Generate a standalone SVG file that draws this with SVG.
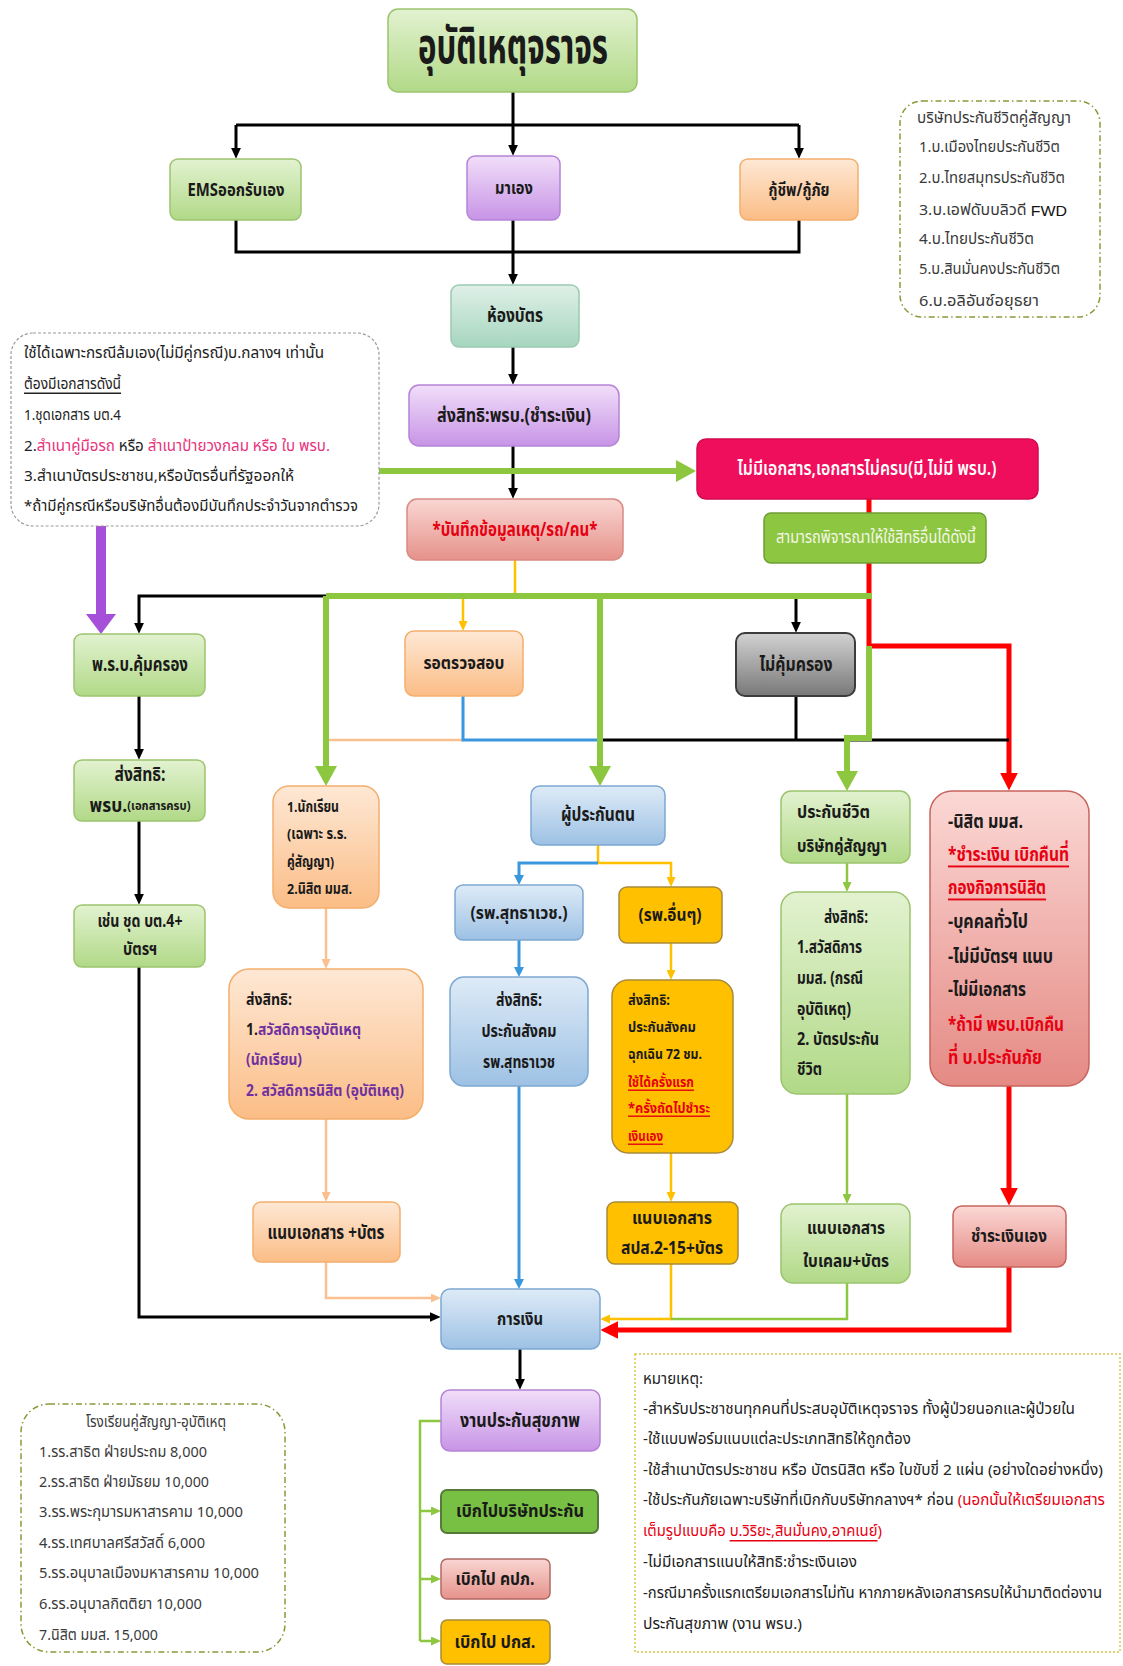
<svg xmlns="http://www.w3.org/2000/svg" width="1123" height="1666" viewBox="0 0 1123 1666">
<defs>
<style>
text{font-family:'Noto Sans Thai','Noto Sans Thai UI','Loma','Garuda','Tlwg Typo','Noto Sans','DejaVu Sans',sans-serif;dominant-baseline:central}
.c{font-weight:700;fill:#1a1a1a;text-anchor:middle}
.l{font-weight:700;fill:#1a1a1a}
.n{font-weight:400;fill:#222}
.g{font-weight:400;fill:#3a3a3a}
.red{fill:#e60012}
.pk{fill:#e8327c}
.pu{fill:#7030a0}
.u{text-decoration:underline}
.k{fill:none;stroke:#000;stroke-width:3}
.gt{fill:none;stroke:#8dc63f;stroke-width:6}
.gn{fill:none;stroke:#8dc63f;stroke-width:2.5}
.rd{fill:none;stroke:#ff0000;stroke-width:5}
.yl{fill:none;stroke:#ffc000;stroke-width:2.5}
.bl{fill:none;stroke:#3a96dd;stroke-width:3}
.or{fill:none;stroke:#fac08f;stroke-width:2.5}
.pp{fill:none;stroke:#a64fd8;stroke-width:10}
</style>
<linearGradient id="gG" x1="0" y1="0" x2="0" y2="1"><stop offset="0" stop-color="#e2f2d0"/><stop offset="1" stop-color="#b1d987"/></linearGradient>
<linearGradient id="gP" x1="0" y1="0" x2="0" y2="1"><stop offset="0" stop-color="#f1def9"/><stop offset="1" stop-color="#c794e6"/></linearGradient>
<linearGradient id="gO" x1="0" y1="0" x2="0" y2="1"><stop offset="0" stop-color="#fee8d5"/><stop offset="1" stop-color="#fbbd86"/></linearGradient>
<linearGradient id="gT" x1="0" y1="0" x2="0" y2="1"><stop offset="0" stop-color="#dff0e8"/><stop offset="1" stop-color="#a6d6bf"/></linearGradient>
<linearGradient id="gR" x1="0" y1="0" x2="0" y2="1"><stop offset="0" stop-color="#f9d6d2"/><stop offset="1" stop-color="#e6928b"/></linearGradient>
<linearGradient id="gB" x1="0" y1="0" x2="0" y2="1"><stop offset="0" stop-color="#deebf7"/><stop offset="1" stop-color="#9dc1e4"/></linearGradient>
<linearGradient id="gK" x1="0" y1="0" x2="0" y2="1"><stop offset="0" stop-color="#d2d2d2"/><stop offset="1" stop-color="#787878"/></linearGradient>
<linearGradient id="gRB" x1="0" y1="0" x2="0" y2="1"><stop offset="0" stop-color="#fbd8d5"/><stop offset="1" stop-color="#e58a84"/></linearGradient>
<marker id="ak" viewBox="0 0 10 10" refX="3" refY="5" markerWidth="11" markerHeight="10" markerUnits="userSpaceOnUse" orient="auto" preserveAspectRatio="none"><path d="M0,0L10,5L0,10z" fill="#000"/></marker>
<marker id="agt" viewBox="0 0 10 10" refX="3" refY="5" markerWidth="20" markerHeight="22" markerUnits="userSpaceOnUse" orient="auto" preserveAspectRatio="none"><path d="M0,0L10,5L0,10z" fill="#8dc63f"/></marker>
<marker id="agn" viewBox="0 0 10 10" refX="3" refY="5" markerWidth="10" markerHeight="9" markerUnits="userSpaceOnUse" orient="auto" preserveAspectRatio="none"><path d="M0,0L10,5L0,10z" fill="#8dc63f"/></marker>
<marker id="ard" viewBox="0 0 10 10" refX="3" refY="5" markerWidth="18" markerHeight="18" markerUnits="userSpaceOnUse" orient="auto" preserveAspectRatio="none"><path d="M0,0L10,5L0,10z" fill="#ff0000"/></marker>
<marker id="ayl" viewBox="0 0 10 10" refX="3" refY="5" markerWidth="10" markerHeight="9" markerUnits="userSpaceOnUse" orient="auto" preserveAspectRatio="none"><path d="M0,0L10,5L0,10z" fill="#ffc000"/></marker>
<marker id="abl" viewBox="0 0 10 10" refX="3" refY="5" markerWidth="10" markerHeight="10" markerUnits="userSpaceOnUse" orient="auto" preserveAspectRatio="none"><path d="M0,0L10,5L0,10z" fill="#3a96dd"/></marker>
<marker id="aor" viewBox="0 0 10 10" refX="3" refY="5" markerWidth="10" markerHeight="9" markerUnits="userSpaceOnUse" orient="auto" preserveAspectRatio="none"><path d="M0,0L10,5L0,10z" fill="#fac08f"/></marker>
<marker id="app" viewBox="0 0 10 10" refX="3" refY="5" markerWidth="20" markerHeight="30" markerUnits="userSpaceOnUse" orient="auto" preserveAspectRatio="none"><path d="M0,0L10,5L0,10z" fill="#a64fd8"/></marker>
</defs>
<rect width="1123" height="1666" fill="#fff"/>

<g id="connectors">
<path class="k" d="M236,125H799"/>
<path class="k" d="M513,92V148" marker-end="url(#ak)"/>
<path class="k" d="M236,125V151" marker-end="url(#ak)"/>
<path class="k" d="M799,125V151" marker-end="url(#ak)"/>
<path class="k" d="M236,220V252H799V220"/>
<path class="k" d="M513,220V277" marker-end="url(#ak)"/>
<path class="k" d="M513,347V377" marker-end="url(#ak)"/>
<path class="k" d="M513,446V491" marker-end="url(#ak)"/>
<path class="gt" d="M379,471H682" marker-end="url(#agt)"/>
<path class="rd" d="M869,499V646H1009V778" marker-end="url(#ard)"/>
<path class="yl" d="M515,560V596"/>
<path class="gt" d="M326,596H872"/>
<path class="k" d="M326,596H139V626" marker-end="url(#ak)"/>
<path class="yl" d="M463,599V624" marker-end="url(#ayl)"/>
<path class="k" d="M796,599V625" marker-end="url(#ak)"/>
<path class="gt" d="M326,596V772" marker-end="url(#agt)"/>
<path class="gt" d="M600,596V772" marker-end="url(#agt)"/>
<path class="or" d="M329,740H463"/>
<path class="bl" d="M463,696V740H597"/>
<path class="k" d="M603,740H1009"/>
<path class="k" d="M796,696V740"/>
<path class="gt" d="M869,646V738H847V777" marker-end="url(#agt)"/>
<path class="pp" d="M101,526V620" marker-end="url(#app)"/>
<path class="k" d="M139,696V752" marker-end="url(#ak)"/>
<path class="k" d="M139,821V897" marker-end="url(#ak)"/>
<path class="k" d="M139,967V1317H433" marker-end="url(#ak)"/>
<path class="or" d="M326,908V962" marker-end="url(#aor)"/>
<path class="or" d="M326,1119V1195" marker-end="url(#aor)"/>
<path class="or" d="M326,1262V1298H434" marker-end="url(#aor)"/>
<path class="yl" d="M598,845V863H671V880" marker-end="url(#ayl)"/>
<path class="bl" d="M598,863H519V878" marker-end="url(#abl)"/>
<path class="bl" d="M519,940V970" marker-end="url(#abl)"/>
<path class="bl" d="M519,1086V1282" marker-end="url(#abl)"/>
<path class="yl" d="M671,943V973" marker-end="url(#ayl)"/>
<path class="yl" d="M671,1153V1195" marker-end="url(#ayl)"/>
<path class="yl" d="M671,1264V1319H607" marker-end="url(#ayl)"/>
<path class="gn" d="M847,863V885" marker-end="url(#agn)"/>
<path class="gn" d="M847,1094V1197" marker-end="url(#agn)"/>
<path class="gn" d="M847,1283V1319H671"/>
<path class="rd" d="M1009,1086V1193" marker-end="url(#ard)"/>
<path class="rd" d="M1009,1267V1330H613" marker-end="url(#ard)"/>
<path class="k" d="M520,1349V1382" marker-end="url(#ak)"/>
<path class="gn" d="M441,1421H420V1641"/>
<path class="gn" d="M420,1511H434" marker-end="url(#agn)"/>
<path class="gn" d="M420,1579H434" marker-end="url(#agn)"/>
<path class="gn" d="M420,1641H434" marker-end="url(#agn)"/>
</g>

<g id="n-title"><rect x="388" y="9" width="249" height="83" rx="10" fill="url(#gG)" stroke="#9cc46e" stroke-width="1.5"/><text class="c" x="513" y="48" font-size="50" textLength="190" lengthAdjust="spacingAndGlyphs">อุบัติเหตุจราจร</text></g>
<g id="n-ems"><rect x="170" y="159" width="131" height="61" rx="8" fill="url(#gG)" stroke="#9cc46e" stroke-width="1.5"/><text class="c" x="236" y="190" font-size="18" textLength="97" lengthAdjust="spacingAndGlyphs">EMSออกรับเอง</text></g>
<g id="n-self"><rect x="467" y="156" width="93" height="64" rx="8" fill="url(#gP)" stroke="#b584d6" stroke-width="1.5"/><text class="c" x="514" y="188" font-size="18" textLength="38" lengthAdjust="spacingAndGlyphs">มาเอง</text></g>
<g id="n-rescue"><rect x="740" y="159" width="118" height="61" rx="8" fill="url(#gO)" stroke="#f3ae6c" stroke-width="1.5"/><text class="c" x="799" y="190" font-size="18" textLength="61" lengthAdjust="spacingAndGlyphs">กู้ชีพ/กู้ภัย</text></g>
<g id="n-card"><rect x="451" y="285" width="128" height="62" rx="8" fill="url(#gT)" stroke="#9cc9b3" stroke-width="1.5"/><text class="c" x="515" y="316" font-size="19" textLength="56" lengthAdjust="spacingAndGlyphs">ห้องบัตร</text></g>
<g id="n-prb-pay"><rect x="409" y="385" width="210" height="61" rx="10" fill="url(#gP)" stroke="#b584d6" stroke-width="1.5"/><text class="c" x="514" y="416" font-size="19" textLength="154" lengthAdjust="spacingAndGlyphs">ส่งสิทธิ:พรบ.(ชำระเงิน)</text></g>
<g id="n-record"><rect x="407" y="499" width="216" height="61" rx="10" fill="url(#gR)" stroke="#d98a84" stroke-width="1.5"/><text class="c red" x="515" y="530" font-size="19" textLength="165" lengthAdjust="spacingAndGlyphs">*บันทึกข้อมูลเหตุ/รถ/คน*</text></g>
<g id="n-nodoc"><rect x="697" y="439" width="341" height="60" rx="9" fill="#ee0e5c" stroke="#d40a50" stroke-width="1.5"/><text class="c" x="867" y="469" font-size="20" style="fill:#fff;font-weight:600" textLength="259" lengthAdjust="spacingAndGlyphs">ไม่มีเอกสาร,เอกสารไม่ครบ(มี,ไม่มี พรบ.)</text></g>
<g id="n-consider"><rect x="764" y="513" width="222" height="50" rx="7" fill="#8dc641" stroke="#6f9f35" stroke-width="1.5"/><text class="c" x="876" y="538" font-size="17" style="fill:#f4f7e8;font-weight:400" textLength="200" lengthAdjust="spacingAndGlyphs">สามารถพิจารณาให้ใช้สิทธิอื่นได้ดังนี้</text></g>

<g id="n-note-left"><rect x="11" y="333" width="368" height="193" rx="22" fill="#fff" stroke="#9a9a9a" stroke-width="1.2" stroke-dasharray="3,2"/>
<text class="n" x="24" y="353" font-size="15" textLength="300" lengthAdjust="spacingAndGlyphs">ใช้ได้เฉพาะกรณีล้มเอง(ไม่มีคู่กรณี)บ.กลางฯ เท่านั้น</text>
<text class="n u" x="24" y="384" font-size="15" textLength="97" lengthAdjust="spacingAndGlyphs">ต้องมีเอกสารดังนี้</text>
<text class="n" x="24" y="415" font-size="15" textLength="97" lengthAdjust="spacingAndGlyphs">1.ชุดเอกสาร บต.4</text>
<text class="n" x="24" y="446" font-size="15" textLength="306" lengthAdjust="spacingAndGlyphs">2.<tspan class="pk">สำเนาคู่มือรถ</tspan> หรือ <tspan class="pk">สำเนาป้ายวงกลม หรือ ใบ พรบ.</tspan></text>
<text class="n" x="24" y="476" font-size="15" textLength="270" lengthAdjust="spacingAndGlyphs">3.สำเนาบัตรประชาชน,หรือบัตรอื่นที่รัฐออกให้</text>
<text class="n" x="24" y="506" font-size="15" textLength="334" lengthAdjust="spacingAndGlyphs">*ถ้ามีคู่กรณีหรือบริษัทอื่นต้องมีบันทึกประจำวันจากตำรวจ</text>
</g>

<g id="n-insurers"><rect x="900" y="101" width="200" height="216" rx="22" fill="#fff" stroke="#8a9a3a" stroke-width="1.5" stroke-dasharray="6,3,1.5,3"/>
<text class="g" x="917" y="118" font-size="15" textLength="154" lengthAdjust="spacingAndGlyphs">บริษัทประกันชีวิตคู่สัญญา</text>
<text class="g" x="919" y="147" font-size="15" textLength="141" lengthAdjust="spacingAndGlyphs">1.บ.เมืองไทยประกันชีวิต</text>
<text class="g" x="919" y="178" font-size="15" textLength="146" lengthAdjust="spacingAndGlyphs">2.บ.ไทยสมุทรประกันชีวิต</text>
<text class="g" x="919" y="210" font-size="15" textLength="148" lengthAdjust="spacingAndGlyphs">3.บ.เอฟดับบลิวดี <tspan style="font-family:'Liberation Sans',sans-serif;fill:#111">FWD</tspan></text>
<text class="g" x="919" y="239" font-size="15" textLength="115" lengthAdjust="spacingAndGlyphs">4.บ.ไทยประกันชีวิต</text>
<text class="g" x="919" y="269" font-size="15" textLength="141" lengthAdjust="spacingAndGlyphs">5.บ.สินมั่นคงประกันชีวิต</text>
<text class="g" x="919" y="301" font-size="15" textLength="120" lengthAdjust="spacingAndGlyphs">6.บ.อลิอันซ์อยุธยา</text>
</g>

<g id="n-prb-cover"><rect x="74" y="634" width="131" height="62" rx="8" fill="url(#gG)" stroke="#9cc46e" stroke-width="1.5"/><text class="c" x="140" y="665" font-size="20" textLength="96" lengthAdjust="spacingAndGlyphs">พ.ร.บ.คุ้มครอง</text></g>
<g id="n-wait"><rect x="405" y="631" width="118" height="65" rx="9" fill="url(#gO)" stroke="#f3ae6c" stroke-width="1.5"/><text class="c" x="464" y="663" font-size="18" textLength="81" lengthAdjust="spacingAndGlyphs">รอตรวจสอบ</text></g>
<g id="n-nocover"><rect x="736" y="633" width="119" height="63" rx="9" fill="url(#gK)" stroke="#3c3c3c" stroke-width="2"/><text class="c" x="796" y="665" font-size="20" textLength="73" lengthAdjust="spacingAndGlyphs">ไม่คุ้มครอง</text></g>
<g id="n-prb-doc"><rect x="74" y="760" width="131" height="61" rx="8" fill="url(#gG)" stroke="#9cc46e" stroke-width="1.5"/><text class="c" x="140" y="775" font-size="20" textLength="51" lengthAdjust="spacingAndGlyphs">ส่งสิทธิ:</text><text class="c" x="140" y="806" font-size="20" textLength="101" lengthAdjust="spacingAndGlyphs">พรบ.<tspan font-size="13">(เอกสารครบ)</tspan></text></g>
<g id="n-eg"><rect x="74" y="905" width="131" height="62" rx="8" fill="url(#gG)" stroke="#9cc46e" stroke-width="1.5"/><text class="c" x="140" y="922" font-size="17" textLength="85" lengthAdjust="spacingAndGlyphs">เช่น ชุด บต.4+</text><text class="c" x="140" y="950" font-size="17" textLength="34" lengthAdjust="spacingAndGlyphs">บัตรฯ</text></g>

<g id="n-student"><rect x="273" y="786" width="106" height="122" rx="16" fill="url(#gO)" stroke="#f3ae6c" stroke-width="1.5"/>
<text class="l" x="287" y="807" font-size="15" textLength="52" lengthAdjust="spacingAndGlyphs">1.นักเรียน</text>
<text class="l" x="287" y="834" font-size="15" textLength="60" lengthAdjust="spacingAndGlyphs">(เฉพาะ ร.ร.</text>
<text class="l" x="287" y="862" font-size="15" textLength="47" lengthAdjust="spacingAndGlyphs">คู่สัญญา)</text>
<text class="l" x="287" y="889" font-size="15" textLength="65" lengthAdjust="spacingAndGlyphs">2.นิสิต มมส.</text>
</g>
<g id="n-welfare"><rect x="229" y="969" width="194" height="150" rx="20" fill="url(#gO)" stroke="#f3ae6c" stroke-width="1.5"/>
<text class="l" x="246" y="1000" font-size="16" textLength="46" lengthAdjust="spacingAndGlyphs">ส่งสิทธิ:</text>
<text class="l" x="246" y="1030" font-size="16" textLength="115" lengthAdjust="spacingAndGlyphs">1.<tspan class="pu">สวัสดิการอุบัติเหตุ</tspan></text>
<text class="l pu" x="246" y="1060" font-size="16" textLength="56" lengthAdjust="spacingAndGlyphs">(นักเรียน)</text>
<text class="l pu" x="246" y="1091" font-size="16" textLength="158" lengthAdjust="spacingAndGlyphs">2. สวัสดิการนิสิต (อุบัติเหตุ)</text>
</g>
<g id="n-attach1"><rect x="253" y="1202" width="147" height="60" rx="8" fill="url(#gO)" stroke="#f3ae6c" stroke-width="1.5"/><text class="c" x="326" y="1233" font-size="19" textLength="117" lengthAdjust="spacingAndGlyphs">แนบเอกสาร +บัตร</text></g>

<g id="n-insured"><rect x="531" y="786" width="134" height="59" rx="9" fill="url(#gB)" stroke="#7ea8d2" stroke-width="1.5"/><text class="c" x="598" y="815" font-size="19" textLength="74" lengthAdjust="spacingAndGlyphs">ผู้ประกันตน</text></g>
<g id="n-suttha"><rect x="455" y="885" width="128" height="55" rx="8" fill="url(#gB)" stroke="#7ea8d2" stroke-width="1.5"/><text class="c" x="519" y="913" font-size="18" textLength="97" lengthAdjust="spacingAndGlyphs">(รพ.สุทธาเวช.)</text></g>
<g id="n-sso1"><rect x="450" y="977" width="138" height="109" rx="14" fill="url(#gB)" stroke="#7ea8d2" stroke-width="1.5"/>
<text class="c" x="519" y="1001" font-size="17" textLength="46" lengthAdjust="spacingAndGlyphs">ส่งสิทธิ:</text>
<text class="c" x="519" y="1032" font-size="17" textLength="75" lengthAdjust="spacingAndGlyphs">ประกันสังคม</text>
<text class="c" x="519" y="1063" font-size="17" textLength="72" lengthAdjust="spacingAndGlyphs">รพ.สุทธาเวช</text>
</g>
<g id="n-other"><rect x="619" y="887" width="103" height="56" rx="8" fill="#ffc000" stroke="#a88a3a" stroke-width="1.5"/><text class="c" x="670" y="915" font-size="18" textLength="63" lengthAdjust="spacingAndGlyphs">(รพ.อื่นๆ)</text></g>
<g id="n-sso2"><rect x="612" y="980" width="121" height="173" rx="16" fill="#ffc000" stroke="#a88a3a" stroke-width="1.5"/>
<text class="l" x="628" y="1000" font-size="14" textLength="42" lengthAdjust="spacingAndGlyphs">ส่งสิทธิ:</text>
<text class="l" x="628" y="1027" font-size="14" textLength="68" lengthAdjust="spacingAndGlyphs">ประกันสังคม</text>
<text class="l" x="628" y="1054" font-size="14" textLength="74" lengthAdjust="spacingAndGlyphs">ฉุกเฉิน 72 ชม.</text>
<text class="l red u" x="628" y="1082" font-size="14" textLength="66" lengthAdjust="spacingAndGlyphs">ใช้ได้ครั้งแรก</text>
<text class="l red u" x="628" y="1108" font-size="14" textLength="82" lengthAdjust="spacingAndGlyphs">*ครั้งถัดไปชำระ</text>
<text class="l red u" x="628" y="1136" font-size="14" textLength="35" lengthAdjust="spacingAndGlyphs">เงินเอง</text>
</g>
<g id="n-attach2"><rect x="607" y="1202" width="131" height="62" rx="8" fill="#ffc000" stroke="#a88a3a" stroke-width="1.5"/><text class="c" x="672" y="1218" font-size="18" textLength="80" lengthAdjust="spacingAndGlyphs">แนบเอกสาร</text><text class="c" x="672" y="1248" font-size="18" textLength="102" lengthAdjust="spacingAndGlyphs">สปส.2-15+บัตร</text></g>

<g id="n-life"><rect x="781" y="791" width="129" height="72" rx="10" fill="url(#gG)" stroke="#9cc46e" stroke-width="1.5"/><text class="l" x="797" y="812" font-size="18" textLength="73" lengthAdjust="spacingAndGlyphs">ประกันชีวิต</text><text class="l" x="797" y="846" font-size="18" textLength="90" lengthAdjust="spacingAndGlyphs">บริษัทคู่สัญญา</text></g>
<g id="n-life-claim"><rect x="781" y="892" width="129" height="202" rx="16" fill="url(#gG)" stroke="#9cc46e" stroke-width="1.5"/>
<text class="c" x="846" y="918" font-size="17" textLength="44" lengthAdjust="spacingAndGlyphs">ส่งสิทธิ:</text>
<text class="l" x="797" y="948" font-size="17" textLength="65" lengthAdjust="spacingAndGlyphs">1.สวัสดิการ</text>
<text class="l" x="797" y="979" font-size="17" textLength="66" lengthAdjust="spacingAndGlyphs">มมส. (กรณี</text>
<text class="l" x="797" y="1010" font-size="17" textLength="54" lengthAdjust="spacingAndGlyphs">อุบัติเหตุ)</text>
<text class="l" x="797" y="1040" font-size="17" textLength="82" lengthAdjust="spacingAndGlyphs">2. บัตรประกัน</text>
<text class="l" x="797" y="1070" font-size="17" textLength="25" lengthAdjust="spacingAndGlyphs">ชีวิต</text>
</g>
<g id="n-attach3"><rect x="781" y="1204" width="129" height="79" rx="12" fill="url(#gG)" stroke="#9cc46e" stroke-width="1.5"/><text class="c" x="846" y="1228" font-size="18" textLength="78" lengthAdjust="spacingAndGlyphs">แนบเอกสาร</text><text class="c" x="846" y="1261" font-size="18" textLength="86" lengthAdjust="spacingAndGlyphs">ใบเคลม+บัตร</text></g>

<g id="n-redbox"><rect x="930" y="791" width="159" height="295" rx="22" fill="url(#gRB)" stroke="#c8645e" stroke-width="1.5"/>
<text class="l" x="948" y="822" font-size="19" textLength="75" lengthAdjust="spacingAndGlyphs">-นิสิต มมส.</text>
<text class="l red u" x="948" y="855" font-size="19" textLength="121" lengthAdjust="spacingAndGlyphs">*ชำระเงิน เบิกคืนที่</text>
<text class="l red u" x="948" y="888" font-size="19" textLength="98" lengthAdjust="spacingAndGlyphs">กองกิจการนิสิต</text>
<text class="l" x="948" y="922" font-size="19" textLength="80" lengthAdjust="spacingAndGlyphs">-บุคคลทั่วไป</text>
<text class="l" x="948" y="957" font-size="19" textLength="105" lengthAdjust="spacingAndGlyphs">-ไม่มีบัตรฯ แนบ</text>
<text class="l" x="948" y="990" font-size="19" textLength="78" lengthAdjust="spacingAndGlyphs">-ไม่มีเอกสาร</text>
<text class="l red" x="948" y="1025" font-size="19" textLength="116" lengthAdjust="spacingAndGlyphs">*ถ้ามี พรบ.เบิกคืน</text>
<text class="l red" x="948" y="1058" font-size="19" textLength="94" lengthAdjust="spacingAndGlyphs">ที่ บ.ประกันภัย</text>
</g>
<g id="n-selfpay"><rect x="953" y="1206" width="113" height="61" rx="9" fill="url(#gRB)" stroke="#c8645e" stroke-width="1.5"/><text class="c" x="1009" y="1236" font-size="18" textLength="76" lengthAdjust="spacingAndGlyphs">ชำระเงินเอง</text></g>

<g id="n-finance"><rect x="441" y="1289" width="159" height="60" rx="9" fill="url(#gB)" stroke="#7ea8d2" stroke-width="1.5"/><text class="c" x="520" y="1319" font-size="18" textLength="46" lengthAdjust="spacingAndGlyphs">การเงิน</text></g>
<g id="n-health"><rect x="441" y="1390" width="159" height="61" rx="9" fill="url(#gP)" stroke="#b584d6" stroke-width="1.5"/><text class="c" x="520" y="1421" font-size="19" textLength="120" lengthAdjust="spacingAndGlyphs">งานประกันสุขภาพ</text></g>
<g id="n-claim-ins"><rect x="441" y="1490" width="157" height="43" rx="6" fill="#78c043" stroke="#557a3c" stroke-width="2"/><text class="c" x="520" y="1511" font-size="18" textLength="128" lengthAdjust="spacingAndGlyphs">เบิกไปบริษัทประกัน</text></g>
<g id="n-claim-oic"><rect x="441" y="1559" width="109" height="40" rx="6" fill="url(#gR)" stroke="#b06a64" stroke-width="1.5"/><text class="c" x="495" y="1579" font-size="18" textLength="79" lengthAdjust="spacingAndGlyphs">เบิกไป คปภ.</text></g>
<g id="n-claim-sso"><rect x="441" y="1620" width="109" height="44" rx="6" fill="#ffc000" stroke="#a88a3a" stroke-width="1.5"/><text class="c" x="495" y="1642" font-size="18" textLength="81" lengthAdjust="spacingAndGlyphs">เบิกไป ปกส.</text></g>

<g id="n-schools"><rect x="21" y="1404" width="264" height="248" rx="28" fill="#fff" stroke="#8a9a3a" stroke-width="1.5" stroke-dasharray="6,3,1.5,3"/>
<text class="g" x="156" y="1422" font-size="15" text-anchor="middle" textLength="140" lengthAdjust="spacingAndGlyphs">โรงเรียนคู่สัญญา-อุบัติเหตุ</text>
<text class="g" x="39" y="1452" font-size="15" textLength="168" lengthAdjust="spacingAndGlyphs">1.รร.สาธิต ฝ่ายประถม 8,000</text>
<text class="g" x="39" y="1482" font-size="15" textLength="170" lengthAdjust="spacingAndGlyphs">2.รร.สาธิต ฝ่ายมัธยม 10,000</text>
<text class="g" x="39" y="1512" font-size="15" textLength="204" lengthAdjust="spacingAndGlyphs">3.รร.พระกุมารมหาสารคาม 10,000</text>
<text class="g" x="39" y="1543" font-size="15" textLength="166" lengthAdjust="spacingAndGlyphs">4.รร.เทศบาลศรีสวัสดิ์ 6,000</text>
<text class="g" x="39" y="1573" font-size="15" textLength="220" lengthAdjust="spacingAndGlyphs">5.รร.อนุบาลเมืองมหาสารคาม 10,000</text>
<text class="g" x="39" y="1604" font-size="15" textLength="163" lengthAdjust="spacingAndGlyphs">6.รร.อนุบาลกิตติยา 10,000</text>
<text class="g" x="39" y="1635" font-size="15" textLength="119" lengthAdjust="spacingAndGlyphs">7.นิสิต มมส. 15,000</text>
</g>

<g id="n-remarks"><rect x="635" y="1354" width="485" height="298" fill="#fff" stroke="#d8c84a" stroke-width="1.5" stroke-dasharray="2,2"/>
<text class="n" x="643" y="1379" font-size="15" textLength="60" lengthAdjust="spacingAndGlyphs">หมายเหตุ:</text>
<text class="n" x="643" y="1409" font-size="15" textLength="432" lengthAdjust="spacingAndGlyphs">-สำหรับประชาชนทุกคนที่ประสบอุบัติเหตุจราจร ทั้งผู้ป่วยนอกและผู้ป่วยใน</text>
<text class="n" x="643" y="1439" font-size="15" textLength="268" lengthAdjust="spacingAndGlyphs">-ใช้แบบฟอร์มแนบแต่ละประเภทสิทธิให้ถูกต้อง</text>
<text class="n" x="643" y="1470" font-size="15" textLength="460" lengthAdjust="spacingAndGlyphs">-ใช้สำเนาบัตรประชาชน หรือ บัตรนิสิต หรือ ใบขับขี่ 2 แผ่น (อย่างใดอย่างหนึ่ง)</text>
<text class="n" x="643" y="1500" font-size="15" textLength="462" lengthAdjust="spacingAndGlyphs">-ใช้ประกันภัยเฉพาะบริษัทที่เบิกกับบริษัทกลางฯ* ก่อน <tspan class="red">(นอกนั้นให้เตรียมเอกสาร</tspan></text>
<text class="n red" x="643" y="1531" font-size="15" textLength="239" lengthAdjust="spacingAndGlyphs">เต็มรูปแบบคือ <tspan class="u">บ.วิริยะ,สินมั่นคง,อาคเนย์</tspan>)</text>
<text class="n" x="643" y="1562" font-size="15" textLength="214" lengthAdjust="spacingAndGlyphs">-ไม่มีเอกสารแนบให้สิทธิ:ชำระเงินเอง</text>
<text class="n" x="643" y="1593" font-size="15" textLength="459" lengthAdjust="spacingAndGlyphs">-กรณีมาครั้งแรกเตรียมเอกสารไม่ทัน หากภายหลังเอกสารครบให้นำมาติดต่องาน</text>
<text class="n" x="643" y="1624" font-size="15" textLength="159" lengthAdjust="spacingAndGlyphs">ประกันสุขภาพ (งาน พรบ.)</text>
</g>
</svg>
